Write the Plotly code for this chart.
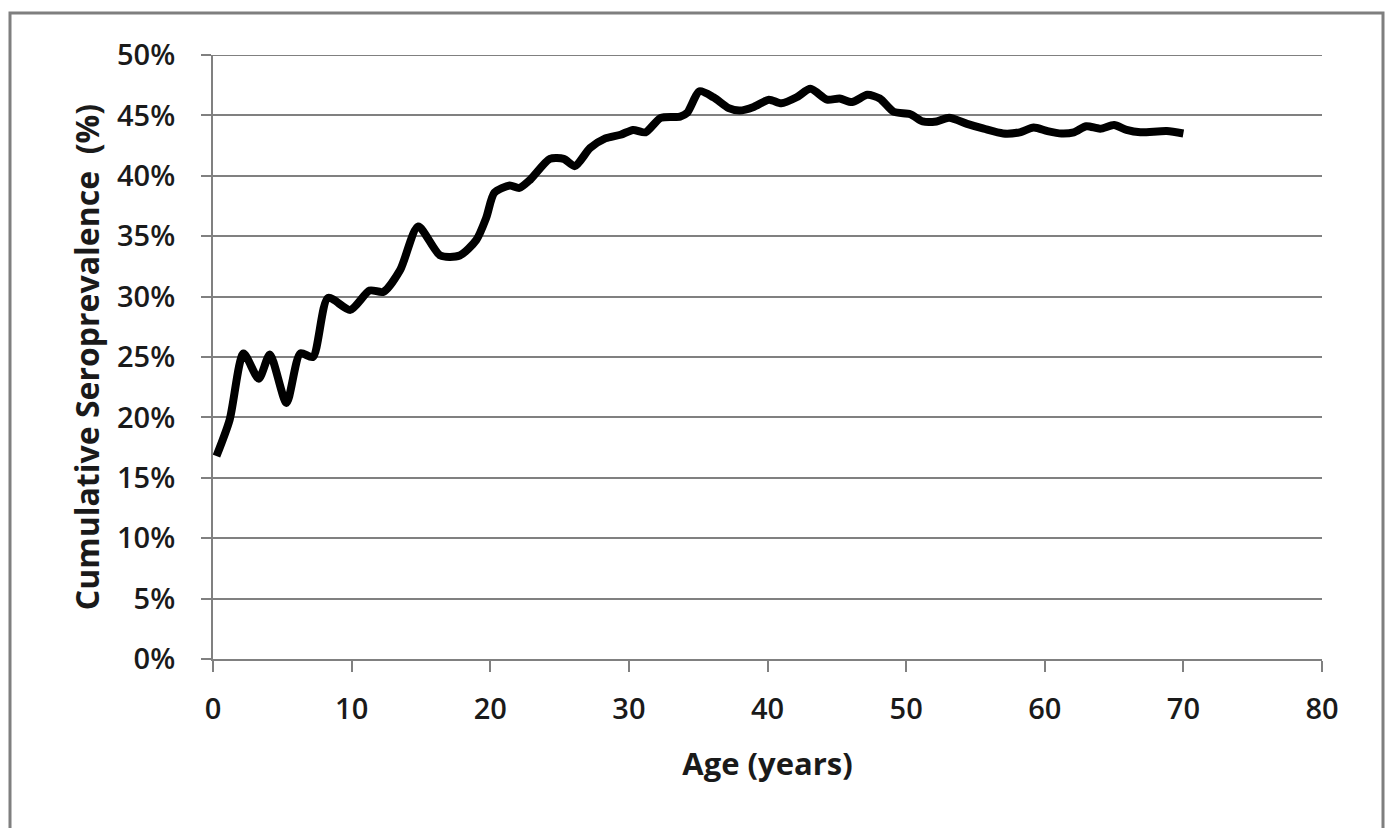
import plotly.graph_objects as go

age_years = [0.25, 1.2, 2.2, 3.3, 4.1, 5.3, 6.3, 7.2, 8.3, 9.9, 11.3, 12.3, 13.5, 14.8,
             16.4, 17.8, 19.0, 19.7, 20.3, 21.4, 22.1, 22.9, 24.3, 25.3, 26.1, 27.2, 28.3,
             29.4, 30.3, 31.2, 32.3, 33.7, 34.2, 35.1, 36.1, 37.2, 38.0, 39.0, 40.1, 41.0,
             42.1, 43.1, 44.3, 45.2, 46.1, 47.2, 48.1, 49.1, 50.3, 51.2, 52.2, 53.1, 54.4,
             55.6, 57.0, 58.2, 59.2, 60.2, 61.2, 62.1, 63.0, 64.0, 65.0, 65.9, 66.9, 68.8, 70.0]
seroprevalence_pct = [16.8, 19.8, 25.3, 23.2, 25.2, 21.2, 25.3, 25.0, 29.9, 28.9, 30.5, 30.4,
                      32.2, 35.8, 33.4, 33.4, 34.7, 36.5, 38.6, 39.2, 39.0, 39.7, 41.4, 41.4,
                      40.8, 42.3, 43.1, 43.4, 43.8, 43.6, 44.8, 44.9, 45.2, 47.0, 46.5, 45.6,
                      45.4, 45.7, 46.3, 46.0, 46.5, 47.2, 46.3, 46.4, 46.1, 46.7, 46.4, 45.3,
                      45.1, 44.5, 44.5, 44.8, 44.3, 43.9, 43.5, 43.6, 44.0, 43.7, 43.5, 43.6,
                      44.1, 43.9, 44.2, 43.8, 43.6, 43.7, 43.5]

x_ticks = [0, 10, 20, 30, 40, 50, 60, 70, 80]
y_ticks = [0, 5, 10, 15, 20, 25, 30, 35, 40, 45, 50]
y_tick_labels = [f"{v}%" for v in y_ticks]

GRID = "#808080"
FONT = "Open Sans"
TXT = "#1a1a1a"

fig = go.Figure()
fig.add_trace(go.Scatter(
    x=age_years, y=seroprevalence_pct, mode="lines",
    line=dict(color="black", width=8, shape="spline", smoothing=0.7),
    showlegend=False, hoverinfo="skip",
))

fig.update_layout(
    width=1389, height=828,
    margin=dict(l=213, r=67, t=55, b=169),
    paper_bgcolor="white", plot_bgcolor="white",
    font=dict(family=FONT, color=TXT),
    xaxis=dict(
        range=[0, 80], tickvals=x_ticks, showgrid=False, zeroline=False,
        showline=True, linecolor=GRID, linewidth=2,
        ticks="outside", ticklen=11, tickwidth=2, tickcolor=GRID,
        tickfont=dict(size=29, family=FONT, color=TXT, weight=600),
        ticklabelstandoff=12,
        title=dict(text="<b>Age (years)</b>", font=dict(size=31, family=FONT, color=TXT), standoff=28),
    ),
    yaxis=dict(
        range=[0, 50], tickvals=y_ticks, ticktext=y_tick_labels,
        showgrid=True, gridcolor=GRID, gridwidth=2, zeroline=False,
        showline=True, linecolor=GRID, linewidth=2,
        ticks="outside", ticklen=10, tickwidth=2, tickcolor=GRID,
        tickfont=dict(size=29, family=FONT, color=TXT, weight=600),
        ticklabelstandoff=20,
        title=dict(text="<b>Cumulative Seroprevalence  (%)</b>", font=dict(size=32, family=FONT, color=TXT), standoff=8),
    ),
    shapes=[
        dict(type="line", xref="x", yref="y", x0=0, x1=80, y0=50, y1=50,
             line=dict(color=GRID, width=2), layer="below"),
        dict(type="rect", xref="paper", yref="paper",
             x0=(10 - 213) / 1109, x1=(1383 - 213) / 1109,
             y0=(659 - 845) / 604, y1=(659 - 13) / 604,
             line=dict(color="#7f7f7f", width=3), fillcolor="rgba(0,0,0,0)", layer="below"),
    ],
)

fig.write_html("out.html")
